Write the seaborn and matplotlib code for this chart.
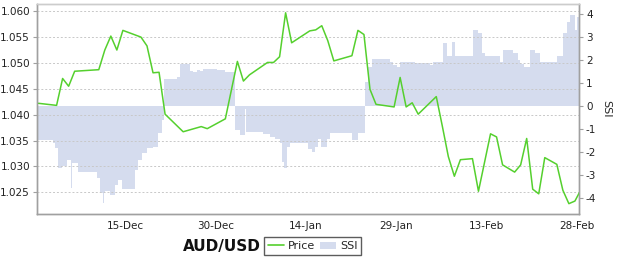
import pandas as pd
import numpy as np
import matplotlib
matplotlib.use("Agg")
import matplotlib.pyplot as plt
import matplotlib.dates as mdates
from matplotlib.patches import Polygon
from matplotlib.lines import Line2D
import seaborn as sns

sns.set_theme(style="white")
plt.rcParams['font.family'] = ['DejaVu Sans']
plt.rcParams['axes.unicode_minus'] = False

# ---------------- data ----------------
price_dates = ["2012-11-30", "2012-12-03", "2012-12-04", "2012-12-05", "2012-12-06",
               "2012-12-10", "2012-12-11", "2012-12-12", "2012-12-13", "2012-12-14",
               "2012-12-17", "2012-12-18", "2012-12-19", "2012-12-20", "2012-12-21",
               "2012-12-24", "2012-12-27", "2012-12-28", "2012-12-31", "2013-01-02",
               "2013-01-03", "2013-01-04", "2013-01-07", "2013-01-08", "2013-01-09",
               "2013-01-10", "2013-01-11", "2013-01-14", "2013-01-15", "2013-01-16",
               "2013-01-17", "2013-01-18", "2013-01-21", "2013-01-22", "2013-01-23",
               "2013-01-24", "2013-01-25", "2013-01-28", "2013-01-29", "2013-01-30",
               "2013-01-31", "2013-02-01", "2013-02-04", "2013-02-05", "2013-02-06",
               "2013-02-07", "2013-02-08", "2013-02-10", "2013-02-11", "2013-02-13",
               "2013-02-14", "2013-02-15", "2013-02-17", "2013-02-18", "2013-02-19",
               "2013-02-20", "2013-02-21", "2013-02-22", "2013-02-24", "2013-02-25",
               "2013-02-26", "2013-02-27", "2013-02-28"]
price = [1.0422, 1.0418, 1.0470, 1.0455, 1.0484, 1.0487, 1.0525, 1.0552, 1.0525, 1.0563,
         1.0550, 1.0533, 1.0481, 1.0482, 1.0401, 1.0367, 1.0377, 1.0373, 1.0392, 1.0503,
         1.0465, 1.0477, 1.0501, 1.0501, 1.0512, 1.0597, 1.0539, 1.0562, 1.0564, 1.0572,
         1.0543, 1.0504, 1.0514, 1.0563, 1.0555, 1.0449, 1.0420, 1.0415, 1.0472, 1.0415,
         1.0423, 1.0401, 1.0435, 1.0378, 1.0319, 1.0281, 1.0313, 1.0315, 1.0252, 1.0363,
         1.0357, 1.0303, 1.0289, 1.0303, 1.0354, 1.0256, 1.0247, 1.0317, 1.0304, 1.0254,
         1.0228, 1.0233, 1.0255]

# SSI: time in days relative to 15-Dec-2012, value from that moment on
ssi_day = [-14.60, -11.95, -11.61, -11.12, -10.45, -9.62, -8.88, -8.71, -7.80, -4.65,
           -4.15, -3.65, -3.48, -3.32, -2.49, -1.66, -1.16, -0.50, 1.66, 2.16,
           2.82, 3.65, 4.65, 5.48, 6.14, 6.47, 8.63, 9.13, 10.78, 11.28,
           11.95, 12.44, 12.94, 15.26, 16.59, 18.25, 19.08, 19.99, 20.16, 22.90,
           24.06, 24.89, 25.72, 26.05, 26.38, 26.88, 27.38, 30.36, 31.03, 31.52,
           32.02, 32.52, 33.52, 34.01, 37.66, 38.66, 39.82, 40.32, 40.98, 43.97,
           44.47, 45.13, 45.63, 48.12, 50.61, 51.10, 52.76, 53.43, 54.26, 54.75,
           57.74, 58.57, 59.23, 59.73, 62.22, 62.72, 64.38, 65.21, 65.54, 66.20,
           67.20, 68.03, 68.86, 71.68, 72.68, 73.34, 73.84, 74.67, 75.00, 75.40]
ssi = [-1.47, -1.6, -1.8, -2.7, -2.6, -2.33, -3.55, -2.47, -2.85, -3.1,
       -3.78, -4.2, -3.78, -3.7, -3.85, -3.4, -3.2, -3.6, -2.77, -2.33,
       -2.03, -1.8, -1.77, -1.17, -0.6, 1.18, 1.27, 1.84, 1.54, 1.5,
       1.6, 1.54, 1.62, 1.58, 1.5, -1.03, -1.25, -0.1, -1.1, -1.2,
       -1.35, -1.4, -1.6, -2.4, -2.7, -1.77, -1.6, -1.85, -2.0, -1.77,
       -1.4, -1.77, -1.4, -1.15, -1.47, -1.17, 1.05, 1.7, 2.06, 1.93,
       1.8, 1.7, 1.93, 1.88, 1.8, 1.93, 2.75, 2.2, 2.8, 2.2,
       3.3, 3.2, 2.3, 2.2, 1.95, 2.45, 2.3, 2.0, 1.85, 1.72,
       2.45, 2.3, 1.93, 2.2, 3.2, 3.65, 3.97, 3.3, 3.9, 3.9]

tick_dates = ["2012-12-15", "2012-12-30", "2013-01-14", "2013-01-29", "2013-02-13", "2013-02-28"]
price_ticks = [1.025, 1.030, 1.035, 1.040, 1.045, 1.050, 1.055, 1.060]
ssi_ticks = [-4, -3, -2, -1, 0, 1, 2, 3, 4]
title = "AUD/USD"

# ---------------- build frames ----------------
base = pd.Timestamp("2012-12-15")
df_price = pd.DataFrame({"date": pd.to_datetime(price_dates) + pd.Timedelta(hours=15.6),
                         "Price": price})
df_ssi = pd.DataFrame({"date": base + pd.to_timedelta(ssi_day, unit="D"), "SSI": ssi})

GREEN = "#55d02e"
FILL = "#d5dcee"
SPINE = "#a0a0a0"

fig = plt.figure(figsize=(6.17, 2.59), dpi=100)
ax = fig.add_axes([37 / 617, 1 - 214 / 259, (579 - 37) / 617, (214 - 4) / 259])
ax2 = ax.twinx()

# SSI area on the main axis (drawn underneath), ticks on the right
ax.fill_between(df_ssi["date"], 0, df_ssi["SSI"], step="post", color=FILL, lw=0)
ax.set_ylim(-4.68, 4.45)
ax.yaxis.tick_right()
ax.yaxis.set_label_position("right")
ax.set_yticks(ssi_ticks)
ax.set_ylabel("SSI", rotation=270, labelpad=11, fontsize=8)

# price line on twin axis, ticks on the left
sns.lineplot(data=df_price, x="date", y="Price", ax=ax2, color=GREEN, lw=1.1)
ax2.set_ylim(1.0208, 1.0614)
ax2.yaxis.tick_left()
ax2.yaxis.set_label_position("left")
ax2.set_yticks(price_ticks)
ax2.set_yticklabels([f"{v:.3f}" for v in price_ticks])
ax2.set_ylabel("")
ax2.set_xlabel("")
ax.set_xlabel("")

xmin = base + pd.Timedelta(days=-14.6)
xmax = base + pd.Timedelta(days=75.33)
ax.set_xlim(xmin, xmax)
ax2.set_xlim(xmin, xmax)
ax.set_xticks(pd.to_datetime(tick_dates))
ax.xaxis.set_major_formatter(mdates.DateFormatter("%d-%b"))

ax2.grid(True, axis="both", color="#c8c8c8", linestyle=(0, (2, 2)), lw=0.7)
ax.grid(False)

for a in (ax, ax2):
    a.tick_params(axis="both", labelsize=7.5, colors=SPINE, labelcolor="#222222",
                  length=3, width=0.8, direction="out", pad=2)
    for s in a.spines.values():
        s.set_color(SPINE)
        s.set_linewidth(1.0)
    a.spines["top"].set_color("#cccccc")
ax.tick_params(axis="x", labelbottom=True, length=3)
ax2.tick_params(axis="x", labelbottom=False, length=0)

# title and legend under the chart
fig.text(222 / 617, 1 - 246 / 259, title, ha="center", va="center",
         fontsize=11, fontweight="bold", color="#111111")

ssi_handle = Polygon([[0.1, 0.1], [0.4, 0.8], [0.6, 0.8], [0.9, 0.1]], closed=True,
                     facecolor=FILL, edgecolor="none")
handles = [Line2D([0], [0], color=GREEN, lw=1.2), ssi_handle]
leg = fig.legend(handles, ["Price", "SSI"], loc="center left",
                 bbox_to_anchor=(262 / 617, 1 - 246 / 259), ncol=2, fontsize=8,
                 frameon=True, fancybox=False, handlelength=1.4, handletextpad=0.35,
                 columnspacing=0.5, borderpad=0.35, handleheight=0.6,
                 borderaxespad=0.2)
leg.get_frame().set_edgecolor("#333333")
leg.get_frame().set_linewidth(1.0)

fig.savefig("out.png", dpi=100)
